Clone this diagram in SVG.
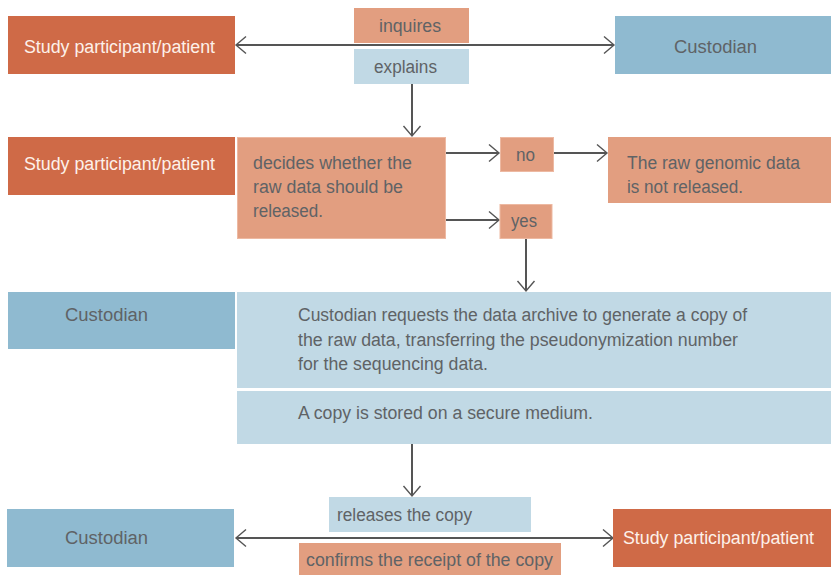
<svg xmlns="http://www.w3.org/2000/svg" width="831" height="575" viewBox="0 0 831 575">
<style>
text{font-family:"Liberation Sans",Arial,sans-serif;font-size:18px;fill:#5f6366}
text.w{fill:#fdf1ea}
.dor{fill:#CF6A47}
.lor{fill:#E29E80}
.dbl{fill:#8FBAD0}
.lbl{fill:#C1D9E5}
.conn{stroke:#555555;stroke-width:2;fill:none}
</style>
<defs>
<marker id="arr" markerUnits="userSpaceOnUse" viewBox="-12 -10 14 20" markerWidth="14" markerHeight="20" refX="0" refY="0" orient="auto-start-reverse">
<path d="M-10,-8.5 L0,0 L-10,8.5" fill="none" stroke="#555555" stroke-width="1.4"/>
</marker>
</defs>
<rect width="831" height="575" fill="#ffffff"/>

<g id="connectors">
<line class="conn" x1="236" y1="45" x2="614" y2="45" marker-start="url(#arr)" marker-end="url(#arr)"/>
<line class="conn" x1="412" y1="84" x2="412" y2="136" marker-end="url(#arr)"/>
<line class="conn" x1="446" y1="153" x2="499" y2="153" marker-end="url(#arr)"/>
<line class="conn" x1="554" y1="153" x2="607" y2="153" marker-end="url(#arr)"/>
<line class="conn" x1="446" y1="220" x2="499" y2="220" marker-end="url(#arr)"/>
<line class="conn" x1="526" y1="239" x2="526" y2="291" marker-end="url(#arr)"/>
<line class="conn" x1="412" y1="444" x2="412" y2="496" marker-end="url(#arr)"/>
<line class="conn" x1="236" y1="538" x2="613" y2="538" marker-start="url(#arr)" marker-end="url(#arr)"/>
</g>

<g id="participant1">
<rect class="dor" x="8" y="16" width="227" height="58"/>
<text class="w" x="24" y="52.5" textLength="191" lengthAdjust="spacingAndGlyphs">Study participant/patient</text>
</g>
<g id="custodian1">
<rect class="dbl" x="615" y="16" width="216" height="58"/>
<text x="674" y="52.5" textLength="83" lengthAdjust="spacingAndGlyphs">Custodian</text>
</g>
<g id="inquires">
<rect class="lor" x="354" y="8" width="115" height="35"/>
<text x="379" y="32" textLength="62" lengthAdjust="spacingAndGlyphs">inquires</text>
</g>
<g id="explains">
<rect class="lbl" x="354" y="49" width="115" height="35"/>
<text x="374" y="72.5" textLength="63" lengthAdjust="spacingAndGlyphs">explains</text>
</g>

<g id="participant2">
<rect class="dor" x="8" y="137" width="227" height="58"/>
<text class="w" x="24" y="170" textLength="191" lengthAdjust="spacingAndGlyphs">Study participant/patient</text>
</g>
<g id="decides">
<rect class="lor" x="237.5" y="137.5" width="208" height="101" stroke="#EDB9A2" stroke-width="1"/>
<text x="253" y="169" textLength="159" lengthAdjust="spacingAndGlyphs">decides whether the</text>
<text x="253" y="193" textLength="150" lengthAdjust="spacingAndGlyphs">raw data should be</text>
<text x="253" y="217" textLength="70" lengthAdjust="spacingAndGlyphs">released.</text>
</g>
<g id="no">
<rect class="lor" x="500.5" y="137.5" width="53" height="34" stroke="#EDB9A2" stroke-width="1"/>
<text x="516" y="161" textLength="19" lengthAdjust="spacingAndGlyphs">no</text>
</g>
<g id="notreleased">
<rect class="lor" x="608" y="137" width="223" height="66"/>
<text x="627" y="169" textLength="173" lengthAdjust="spacingAndGlyphs">The raw genomic data</text>
<text x="627" y="193" textLength="116" lengthAdjust="spacingAndGlyphs">is not released.</text>
</g>
<g id="yes">
<rect class="lor" x="500" y="204.5" width="52" height="34" stroke="#EDB9A2" stroke-width="1"/>
<text x="511" y="227" textLength="26" lengthAdjust="spacingAndGlyphs">yes</text>
</g>

<g id="custodian2">
<rect class="dbl" x="8" y="292" width="227" height="57"/>
<text x="65" y="321" textLength="83" lengthAdjust="spacingAndGlyphs">Custodian</text>
</g>
<g id="request">
<rect class="lbl" x="237" y="292" width="594" height="96"/>
<text x="298" y="321" textLength="449" lengthAdjust="spacingAndGlyphs">Custodian requests the data archive to generate a copy of</text>
<text x="298" y="345.5" textLength="440" lengthAdjust="spacingAndGlyphs">the raw data, transferring the pseudonymization number</text>
<text x="298" y="370" textLength="190" lengthAdjust="spacingAndGlyphs">for the sequencing data.</text>
</g>
<g id="stored">
<rect class="lbl" x="237" y="391" width="594" height="53"/>
<text x="298" y="419" textLength="295" lengthAdjust="spacingAndGlyphs">A copy is stored on a secure medium.</text>
</g>

<g id="custodian3">
<rect class="dbl" x="7" y="509" width="227" height="58"/>
<text x="65" y="544" textLength="83" lengthAdjust="spacingAndGlyphs">Custodian</text>
</g>
<g id="releases">
<rect class="lbl" x="329" y="497" width="202" height="35"/>
<text x="337" y="521" textLength="135" lengthAdjust="spacingAndGlyphs">releases the copy</text>
</g>
<g id="confirms">
<rect class="lor" x="299" y="543" width="262" height="32"/>
<text x="306" y="566" textLength="247" lengthAdjust="spacingAndGlyphs">confirms the receipt of the copy</text>
</g>
<g id="participant3">
<rect class="dor" x="613" y="509" width="218" height="58"/>
<text class="w" x="623" y="544" textLength="191" lengthAdjust="spacingAndGlyphs">Study participant/patient</text>
</g>
</svg>
